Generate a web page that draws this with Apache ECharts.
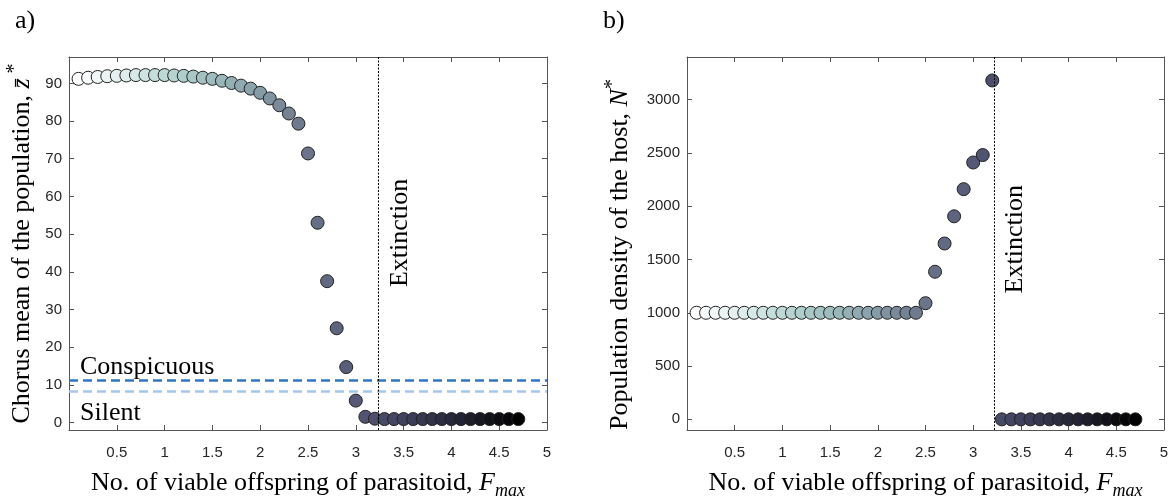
<!DOCTYPE html>
<html>
<head>
<meta charset="utf-8">
<script src="https://cdn.jsdelivr.net/npm/echarts@6/dist/echarts.min.js"></script>
<style>
  html, body { margin: 0; padding: 0; background: #fff; }
  #chart { width: 1171px; height: 502px; }
</style>
</head>
<body>
<div id="chart"></div>
<script>
// x values (F_max) shared by both panels
const fmax = [
  0.1, 0.2, 0.3, 0.4, 0.5, 0.6, 0.7, 0.8, 0.9, 1.0,
  1.1, 1.2, 1.3, 1.4, 1.5, 1.6, 1.7, 1.8, 1.9, 2.0,
  2.1, 2.2, 2.3, 2.4, 2.5, 2.6, 2.7, 2.8, 2.9, 3.0,
  3.1, 3.2, 3.3, 3.4, 3.5, 3.6, 3.7, 3.8, 3.9, 4.0,
  4.1, 4.2, 4.3, 4.4, 4.5, 4.6, 4.7
];

// panel a) chorus mean z*
const chorusMean = [
  91.2, 91.5, 91.7, 91.9, 92.0, 92.1, 92.2, 92.2, 92.2, 92.2,
  92.1, 92.0, 91.8, 91.5, 91.2, 90.7, 90.1, 89.4, 88.6, 87.5,
  86.0, 84.2, 82.0, 79.3, 71.4, 53.0, 37.5, 25.0, 14.7, 5.8,
  1.5, 1.0, 0.9, 0.9, 0.9, 0.9, 0.9, 0.9, 0.9, 0.9,
  0.9, 0.9, 0.9, 0.9, 0.9, 0.9, 0.9
];

// panel b) host density N*
const hostDensity = [
  1000, 1000, 1000, 1000, 1000, 1000, 1000, 1000, 1000, 1000,
  1000, 1000, 1000, 1000, 1000, 1000, 1000, 1000, 1000, 1000,
  1000, 1000, 1000, 1000, 1090, 1385, 1650, 1905, 2160, 2410,
  2480, 3180, 0, 0, 0, 0, 0, 0, 0, 0,
  0, 0, 0, 0, 0, 0, 0
];

const xTicks = [0.5, 1, 1.5, 2, 2.5, 3, 3.5, 4, 4.5, 5];
const yTicksA = [0, 10, 20, 30, 40, 50, 60, 70, 80, 90];
const yTicksB = [0, 500, 1000, 1500, 2000, 2500, 3000];

const conspicuousLevel = 11.1;
const silentLevel = 8.3;
const extinctionA = 3.24;
const extinctionB = 3.22;

const serif = '"Liberation Serif", "Times New Roman", serif';
const sans = '"Liberation Sans", Arial, sans-serif';
const axisColor = '#555';

const nameRich = {
  n: { fontFamily: serif, fontSize: 26, color: '#000', lineHeight: 34 },
  i: { fontFamily: serif, fontSize: 26, fontStyle: 'italic', color: '#000', lineHeight: 34 },
  sup: { fontFamily: serif, fontSize: 20, color: '#000', lineHeight: 22, verticalAlign: 'top' },
  supB: { fontFamily: serif, fontSize: 20, color: '#000', lineHeight: 22, verticalAlign: 'top', padding: [0, 22, 0, 0] },
  sub: { fontFamily: serif, fontSize: 18, fontStyle: 'italic', color: '#000', lineHeight: 18, verticalAlign: 'bottom' }
};

function xAxes(gridIndex) {
  return [
    {
      gridIndex, type: 'value', position: 'bottom', min: 0, max: 5,
      axisLine: { onZero: false, lineStyle: { color: axisColor, width: 1 } },
      axisTick: { inside: true, length: 5, customValues: xTicks, lineStyle: { color: axisColor } },
      axisLabel: { customValues: xTicks, color: '#262626', fontFamily: sans, fontSize: 15, margin: 15 },
      splitLine: { show: false },
      name: '{n|No. of viable offspring of parasitoid, }{i|F}{sub|max}',
      nameLocation: 'middle', nameGap: 36,
      nameTextStyle: { rich: nameRich }
    },
    {
      gridIndex, type: 'value', position: 'top', min: 0, max: 5,
      axisLine: { onZero: false, lineStyle: { color: axisColor, width: 1 } },
      axisTick: { inside: true, length: 5, customValues: xTicks, lineStyle: { color: axisColor } },
      axisLabel: { show: false },
      splitLine: { show: false }
    }
  ];
}

function yAxes(gridIndex, min, max, ticks, name, gap) {
  return [
    {
      gridIndex, type: 'value', position: 'left', min, max,
      axisLine: { show: true, onZero: false, lineStyle: { color: axisColor, width: 1 } },
      axisTick: { show: true, inside: true, length: 5, customValues: ticks, lineStyle: { color: axisColor } },
      axisLabel: {
        customValues: ticks, color: '#262626', fontFamily: sans, fontSize: 15, margin: 7,
        formatter: (v) => String(v)
      },
      splitLine: { show: false },
      name, nameLocation: 'middle', nameGap: gap,
      nameTextStyle: { rich: nameRich }
    },
    {
      gridIndex, type: 'value', position: 'right', min, max,
      axisLine: { show: true, onZero: false, lineStyle: { color: axisColor, width: 1 } },
      axisTick: { show: true, inside: true, length: 5, customValues: ticks, lineStyle: { color: axisColor } },
      axisLabel: { show: false },
      splitLine: { show: false }
    }
  ];
}

function pts(ys) {
  return fmax.map((x, i) => [x, ys[i]]);
}

const markerStyle = { borderColor: '#222', borderWidth: 1, opacity: 1 };

const option = {
  animation: false,
  backgroundColor: '#fff',
  grid: [
    { left: 69, right: 624, top: 57, bottom: 72, outerBoundsMode: 'none' },
    { left: 687, right: 7, top: 57, bottom: 72, outerBoundsMode: 'none' }
  ],
  xAxis: [...xAxes(0), ...xAxes(1)],
  yAxis: [
    ...yAxes(0, -2, 97, yTicksA, '{n|Chorus mean of the population, }{i|z\u0304}{sup| *}', 30),
    ...yAxes(1, -100, 3400, yTicksB, '{n|Population density of the host, }{i|N}{supB|*}', 50)
  ],
  visualMap: {
    type: 'continuous', show: false, dimension: 0, seriesIndex: [0, 1],
    min: 0.1, max: 4.7,
    inRange: {
      color: ['#ffffff', '#d9eae8', '#a9cbc8', '#8fa9b0', '#6f7a8e', '#565a77', '#3e3f5a', '#222232', '#000000']
    }
  },
  series: [
    {
      type: 'scatter', xAxisIndex: 0, yAxisIndex: 0,
      symbolSize: 13, itemStyle: markerStyle,
      data: pts(chorusMean),
      markLine: {
        silent: true, symbol: 'none', label: { show: false }, animation: false,
        data: [
          { yAxis: conspicuousLevel, lineStyle: { color: '#2f76c2', width: 2.5, type: [9, 5] } },
          { yAxis: silentLevel, lineStyle: { color: '#a4c7ea', width: 2.5, type: [9, 5] } },
          { xAxis: extinctionA, lineStyle: { color: '#000', width: 1, type: [2, 1.5] } }
        ]
      }
    },
    {
      type: 'scatter', xAxisIndex: 2, yAxisIndex: 2,
      symbolSize: 13, itemStyle: markerStyle,
      data: pts(hostDensity),
      markLine: {
        silent: true, symbol: 'none', label: { show: false }, animation: false,
        data: [
          { xAxis: extinctionB, lineStyle: { color: '#000', width: 1, type: [2, 1.5] } }
        ]
      }
    }
  ]
};

const chart = echarts.init(document.getElementById('chart'));
chart.setOption(option);

// annotations placed via the axes
const font = '26px ' + serif;
const exA = chart.convertToPixel({ xAxisIndex: 0, yAxisIndex: 0 }, [3.46, 50.3]);
const exB = chart.convertToPixel({ xAxisIndex: 2, yAxisIndex: 2 }, [3.44, 1690]);
const consp = chart.convertToPixel({ xAxisIndex: 0, yAxisIndex: 0 }, [0.115, 14.6]);
const sil = chart.convertToPixel({ xAxisIndex: 0, yAxisIndex: 0 }, [0.115, 2.4]);

chart.setOption({
  graphic: [
    { type: 'text', x: 15, y: 21, style: { text: 'a)', font, fill: '#000', textVerticalAlign: 'middle' } },
    { type: 'text', x: 603, y: 21, style: { text: 'b)', font, fill: '#000', textVerticalAlign: 'middle' } },
    { type: 'text', x: exA[0], y: exA[1], rotation: Math.PI / 2,
      style: { text: 'Extinction', font, fill: '#000', textAlign: 'center', textVerticalAlign: 'middle' } },
    { type: 'text', x: exB[0], y: exB[1], rotation: Math.PI / 2,
      style: { text: 'Extinction', font, fill: '#000', textAlign: 'center', textVerticalAlign: 'middle' } },
    { type: 'text', x: consp[0], y: consp[1],
      style: { text: 'Conspicuous', font, fill: '#000', textVerticalAlign: 'middle' } },
    { type: 'text', x: sil[0], y: sil[1],
      style: { text: 'Silent', font, fill: '#000', textVerticalAlign: 'middle' } }
  ]
});

window.addEventListener('resize', () => chart.resize());
</script>
</body>
</html>
